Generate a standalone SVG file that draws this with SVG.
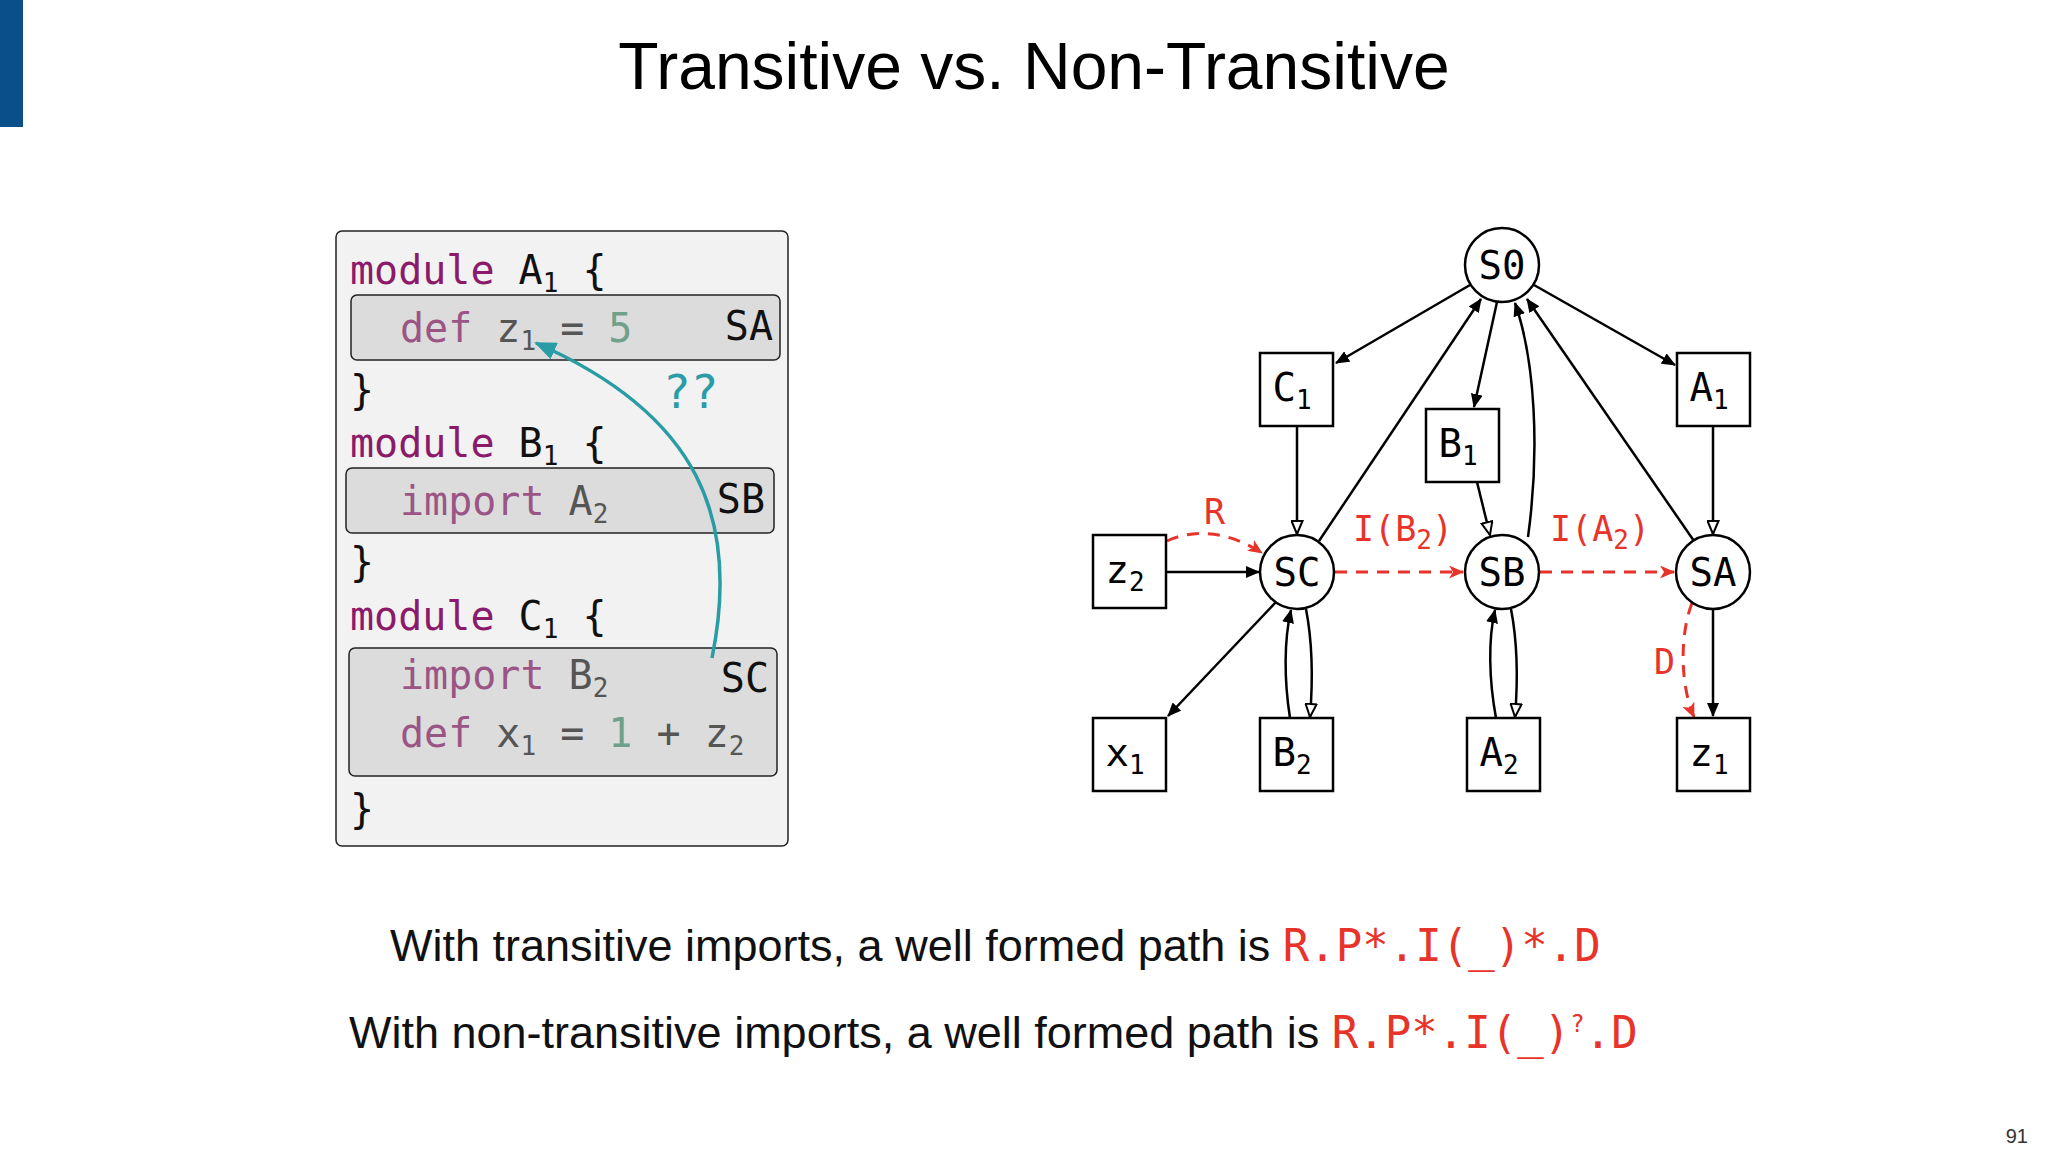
<svg xmlns="http://www.w3.org/2000/svg" width="2048" height="1152" viewBox="0 0 2048 1152">
<style>
.mono{font-family:"DejaVu Sans Mono","Liberation Mono",monospace}
.sans{font-family:"Liberation Sans","Noto Sans",sans-serif}
.code{font-size:40px}
.kw{fill:#8b1a6b}
.kw2{fill:#9b5585}
.num{fill:#6fa08a}
.dim{fill:#555}
.blk{fill:#111}
.node{fill:#fff;stroke:#000;stroke-width:2.5}
.nl{font-size:39px;fill:#000;text-anchor:middle}
.sub{font-size:26px}
.e{fill:none;stroke:#000;stroke-width:2.5}
.r{fill:none;stroke:#e8332a;stroke-width:3;stroke-dasharray:12 9}
.rl{fill:#e8332a;font-size:35px}
</style>
<defs>
<marker id="af" markerWidth="14" markerHeight="12" refX="13" refY="6" orient="auto" markerUnits="userSpaceOnUse"><path d="M0,0 L14,6 L0,12 Z" fill="#000"/></marker>
<marker id="ah" markerWidth="15" markerHeight="13" refX="14" refY="6.5" orient="auto" markerUnits="userSpaceOnUse"><path d="M1,1 L14,6.5 L1,12 Z" fill="#fff" stroke="#000" stroke-width="2"/></marker>
<marker id="ar" markerWidth="15" markerHeight="13" refX="14" refY="6.5" orient="auto" markerUnits="userSpaceOnUse"><path d="M0,0 L15,6.5 L0,13 L4,6.5 Z" fill="#e8332a"/></marker>
<marker id="at" markerWidth="22" markerHeight="18" refX="20" refY="9" orient="auto" markerUnits="userSpaceOnUse"><path d="M0,0 L22,9 L0,18 Z" fill="#2a9ca6"/></marker>
</defs>
<rect width="2048" height="1152" fill="#fff"/>
<rect x="0" y="0" width="23" height="127" fill="#0a4f8a"/>
<text x="1034" y="89" class="sans" font-size="66" text-anchor="middle" fill="#000">Transitive vs. Non-Transitive</text>

<g id="code">
<rect x="336" y="231" width="452" height="615" rx="6" fill="#f2f2f2" stroke="#222" stroke-width="1.5"/>
<rect x="351" y="295" width="429" height="65" rx="6" fill="#dcdcdc" stroke="#222" stroke-width="1.5"/>
<rect x="346" y="468" width="428" height="65" rx="6" fill="#dcdcdc" stroke="#222" stroke-width="1.5"/>
<rect x="349" y="648" width="428" height="128" rx="6" fill="#dcdcdc" stroke="#222" stroke-width="1.5"/>
<g class="mono code">
<text x="350" y="284"><tspan class="kw">module </tspan><tspan class="blk">A</tspan><tspan class="blk sub" dy="8">1</tspan><tspan class="blk" dy="-8"> {</tspan></text>
<text x="400" y="342"><tspan class="kw2">def </tspan><tspan class="dim">z</tspan><tspan class="dim sub" dy="8">1</tspan><tspan class="dim" dy="-8"> = </tspan><tspan class="num">5</tspan></text>
<text x="773" y="340" text-anchor="end" class="blk">SA</text>
<text x="350" y="404" class="blk">}</text>
<text x="350" y="457"><tspan class="kw">module </tspan><tspan class="blk">B</tspan><tspan class="blk sub" dy="8">1</tspan><tspan class="blk" dy="-8"> {</tspan></text>
<text x="400" y="515"><tspan class="kw2">import </tspan><tspan class="dim">A</tspan><tspan class="dim sub" dy="8">2</tspan></text>
<text x="765" y="513" text-anchor="end" class="blk">SB</text>
<text x="350" y="576" class="blk">}</text>
<text x="350" y="630"><tspan class="kw">module </tspan><tspan class="blk">C</tspan><tspan class="blk sub" dy="8">1</tspan><tspan class="blk" dy="-8"> {</tspan></text>
<text x="400" y="689"><tspan class="kw2">import </tspan><tspan class="dim">B</tspan><tspan class="dim sub" dy="8">2</tspan></text>
<text x="769" y="692" text-anchor="end" class="blk">SC</text>
<text x="400" y="747"><tspan class="kw2">def </tspan><tspan class="dim">x</tspan><tspan class="dim sub" dy="8">1</tspan><tspan class="dim" dy="-8"> = </tspan><tspan class="num">1</tspan><tspan class="dim"> + z</tspan><tspan class="dim sub" dy="8">2</tspan></text>
<text x="350" y="823" class="blk">}</text>
<text x="663" y="408" fill="#2a9ca6" font-size="46">??</text>
</g>
<path d="M712,658 C740,520 700,415 536,343" fill="none" stroke="#2a9ca6" stroke-width="3.5" marker-end="url(#at)"/>
</g>

<g id="connectors">
<line x1="1470" y1="285" x2="1336" y2="363" class="e" marker-end="url(#af)"/>
<line x1="1319" y1="541" x2="1481" y2="299" class="e" marker-end="url(#af)"/>
<line x1="1497" y1="302" x2="1474" y2="407" class="e" marker-end="url(#af)"/>
<path d="M1528,537 C1540,450 1535,360 1515,303" class="e" marker-end="url(#af)"/>
<line x1="1694" y1="541" x2="1527" y2="299" class="e" marker-end="url(#af)"/>
<line x1="1534" y1="285" x2="1675" y2="365" class="e" marker-end="url(#af)"/>
<line x1="1297" y1="426" x2="1297" y2="534" class="e" marker-end="url(#ah)"/>
<line x1="1477" y1="482" x2="1490" y2="535" class="e" marker-end="url(#ah)"/>
<line x1="1713" y1="426" x2="1713" y2="534" class="e" marker-end="url(#ah)"/>
<line x1="1166" y1="572" x2="1259" y2="572" class="e" marker-end="url(#af)"/>
<line x1="1276" y1="602" x2="1168" y2="716" class="e" marker-end="url(#af)"/>
<path d="M1290,718 C1284,680 1284,640 1291,610" class="e" marker-end="url(#af)"/>
<path d="M1306,609 C1312,640 1313,680 1310,717" class="e" marker-end="url(#ah)"/>
<path d="M1496,718 C1489,680 1488,640 1495,610" class="e" marker-end="url(#af)"/>
<path d="M1511,609 C1517,640 1518,680 1515,717" class="e" marker-end="url(#ah)"/>
<line x1="1713" y1="609" x2="1713" y2="716" class="e" marker-end="url(#af)"/>
<path d="M1167,541 C1195,528 1230,532 1262,553" class="r" marker-end="url(#ar)"/>
<line x1="1335" y1="572" x2="1463" y2="572" class="r" marker-end="url(#ar)"/>
<line x1="1540" y1="572" x2="1674" y2="572" class="r" marker-end="url(#ar)"/>
<path d="M1692,603 C1678,640 1682,690 1694,717" class="r" marker-end="url(#ar)"/>
<g class="mono">
<text x="1204" y="524" class="rl">R</text>
<text x="1353" y="541" class="rl">I(B<tspan class="sub" dy="8">2</tspan><tspan dy="-8">)</tspan></text>
<text x="1550" y="541" class="rl">I(A<tspan class="sub" dy="8">2</tspan><tspan dy="-8">)</tspan></text>
<text x="1654" y="674" class="rl">D</text>
</g>
</g>

<g class="mono">
<g id="S0"><circle cx="1502" cy="265" r="37" class="node"/><text x="1502" y="279" class="nl">S0</text></g>
<g id="C1"><rect x="1260" y="353" width="73" height="73" class="node"/><text x="1292" y="401" class="nl">C<tspan class="sub" dy="8">1</tspan></text></g>
<g id="B1"><rect x="1426" y="409" width="73" height="73" class="node"/><text x="1458" y="457" class="nl">B<tspan class="sub" dy="8">1</tspan></text></g>
<g id="A1"><rect x="1677" y="353" width="73" height="73" class="node"/><text x="1709" y="401" class="nl">A<tspan class="sub" dy="8">1</tspan></text></g>
<g id="SC"><circle cx="1297" cy="572" r="37" class="node"/><text x="1297" y="586" class="nl">SC</text></g>
<g id="SB"><circle cx="1502" cy="572" r="37" class="node"/><text x="1502" y="586" class="nl">SB</text></g>
<g id="SA"><circle cx="1713" cy="572" r="37" class="node"/><text x="1713" y="586" class="nl">SA</text></g>
<g id="z2"><rect x="1093" y="535" width="73" height="73" class="node"/><text x="1125" y="583" class="nl">z<tspan class="sub" dy="8">2</tspan></text></g>
<g id="x1"><rect x="1093" y="718" width="73" height="73" class="node"/><text x="1125" y="766" class="nl">x<tspan class="sub" dy="8">1</tspan></text></g>
<g id="B2"><rect x="1260" y="718" width="73" height="73" class="node"/><text x="1292" y="766" class="nl">B<tspan class="sub" dy="8">2</tspan></text></g>
<g id="A2"><rect x="1467" y="718" width="73" height="73" class="node"/><text x="1499" y="766" class="nl">A<tspan class="sub" dy="8">2</tspan></text></g>
<g id="z1"><rect x="1677" y="718" width="73" height="73" class="node"/><text x="1709" y="766" class="nl">z<tspan class="sub" dy="8">1</tspan></text></g>
</g>

<text x="390" y="961" class="sans" font-size="45" fill="#111">With transitive imports, a well formed path is <tspan class="mono" fill="#e8332a" font-size="44">R.P*.I(_)*.D</tspan></text>
<text x="349" y="1048" class="sans" font-size="45" fill="#111">With non-transitive imports, a well formed path is <tspan class="mono" fill="#e8332a" font-size="44">R.P*.I(_)<tspan font-size="24" dy="-16">?</tspan><tspan dy="16">.D</tspan></tspan></text>
<text x="2028" y="1143" class="sans" font-size="20" text-anchor="end" fill="#333">91</text>
</svg>
